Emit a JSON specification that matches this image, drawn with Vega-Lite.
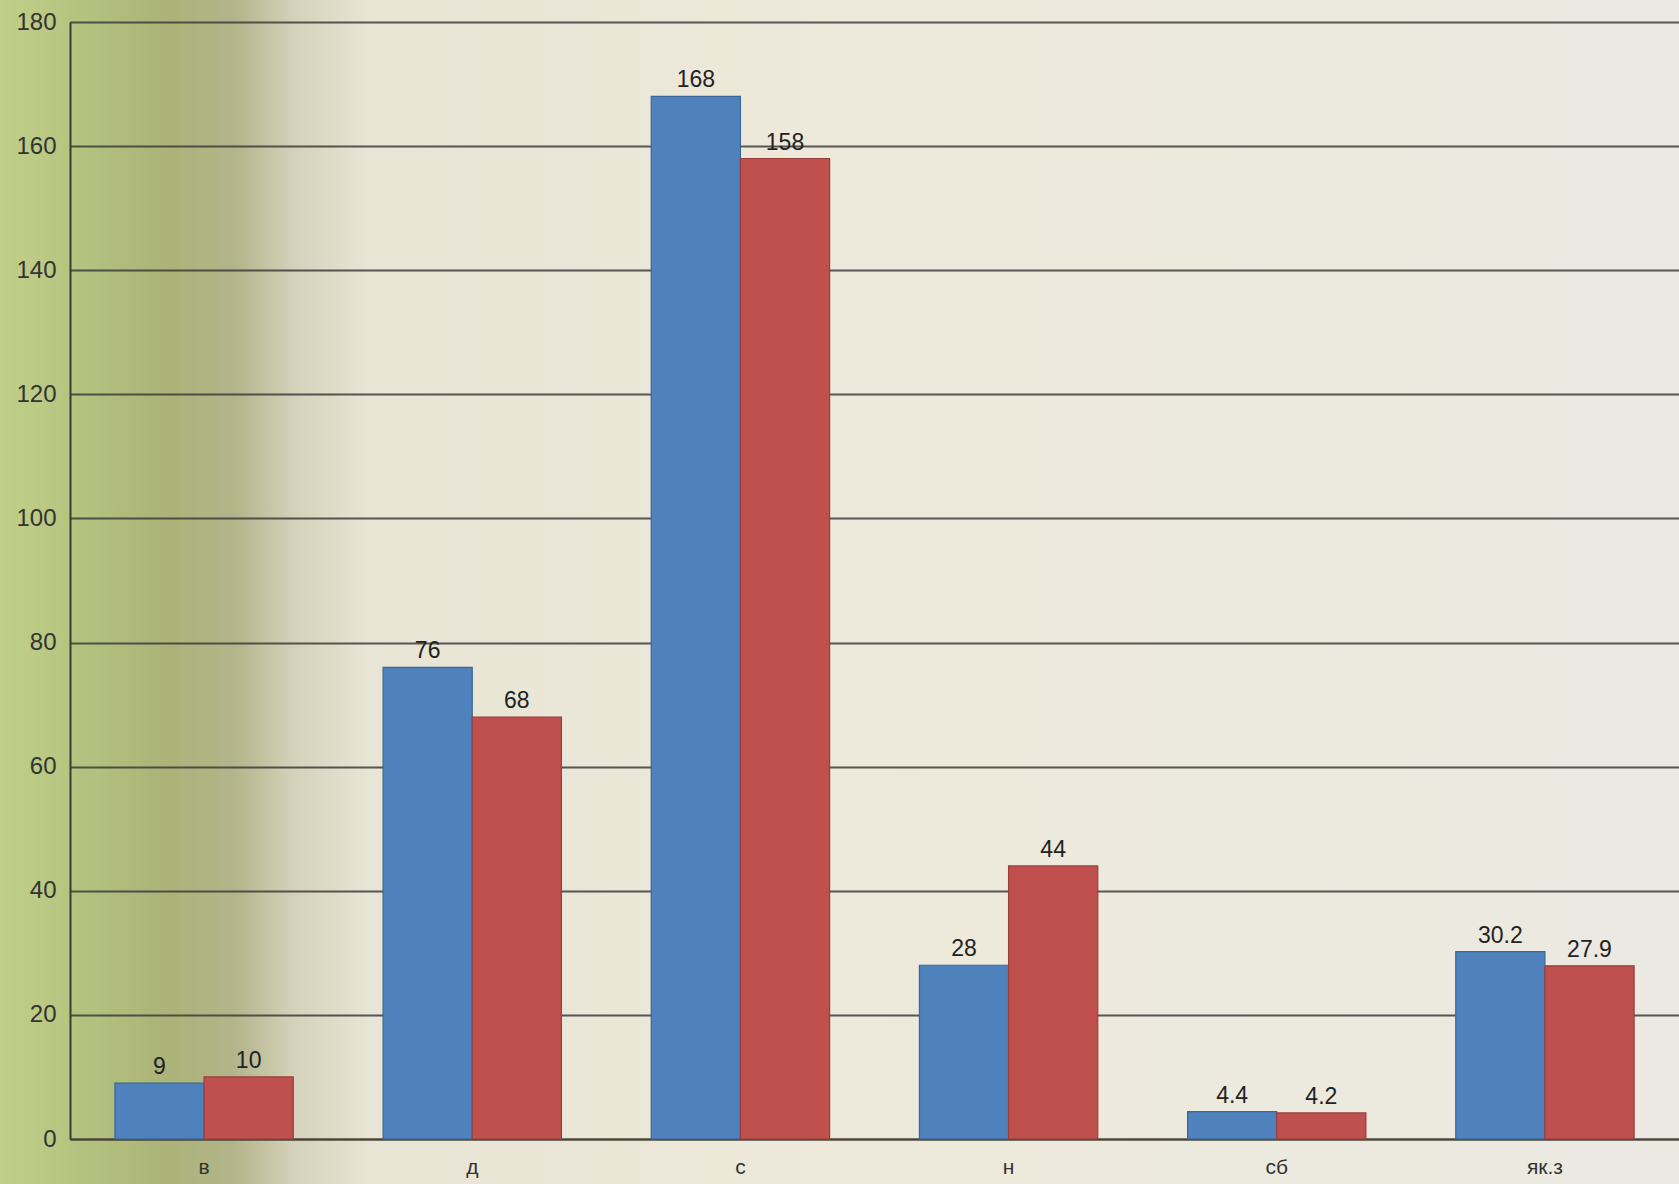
{
  "$schema": "https://vega.github.io/schema/vega-lite/v6.json",
  "width": 1679,
  "height": 1184,
  "autosize": {"type": "none"},
  "padding": 0,
  "background": "#ece8da",
  "config": {
    "view": {
      "stroke": null,
      "fill": {
        "gradient": "linear",
        "x1": 0, "y1": 0, "x2": 1, "y2": 0,
        "stops": [
          {"offset": 0, "color": "#c0d088"},
          {"offset": 0.05, "color": "#b5c27f"},
          {"offset": 0.1, "color": "#abb378"},
          {"offset": 0.14, "color": "#b3b58a"},
          {"offset": 0.175, "color": "#d4d2ba"},
          {"offset": 0.22, "color": "#e8e5d5"},
          {"offset": 0.5, "color": "#eee9da"},
          {"offset": 1, "color": "#ebe9e2"}
        ]
      }
    },
    "font": "Liberation Sans"
  },
  "data": {
    "values": [
      {"cat": "в", "series": "1", "value": 9},
      {"cat": "в", "series": "2", "value": 10},
      {"cat": "д", "series": "1", "value": 76},
      {"cat": "д", "series": "2", "value": 68},
      {"cat": "с", "series": "1", "value": 168},
      {"cat": "с", "series": "2", "value": 158},
      {"cat": "н", "series": "1", "value": 28},
      {"cat": "н", "series": "2", "value": 44},
      {"cat": "сб", "series": "1", "value": 4.4},
      {"cat": "сб", "series": "2", "value": 4.2},
      {"cat": "як.з", "series": "1", "value": 30.2},
      {"cat": "як.з", "series": "2", "value": 27.9}
    ]
  },
  "encoding": {
    "x": {
      "field": "cat",
      "type": "nominal",
      "sort": ["в", "д", "с", "н", "сб", "як.з"],
      "scale": {"range": [70, 1679], "paddingInner": 0.335, "paddingOuter": 0.1675},
      "axis": {
        "title": null,
        "offset": -45,
        "labelAngle": 0,
        "labelFontSize": 21,
        "labelColor": "#333333",
        "labelPadding": 17,
        "ticks": false,
        "domainColor": "#4a4535",
        "domainWidth": 2,
        "grid": false
      }
    },
    "xOffset": {"field": "series", "type": "nominal", "scale": {"paddingInner": 0}},
    "y": {
      "field": "value",
      "type": "quantitative",
      "scale": {"domain": [0, 180], "nice": false, "range": [1139, 22]},
      "axis": {
        "title": null,
        "offset": -70,
        "values": [0, 20, 40, 60, 80, 100, 120, 140, 160, 180],
        "labelFontSize": 24,
        "labelColor": "#333333",
        "labelPadding": 14,
        "ticks": false,
        "domainColor": "#3a3a35",
        "domainWidth": 2,
        "grid": true,
        "gridColor": "#3c3c38",
        "gridWidth": 2,
        "gridOpacity": 0.85
      }
    }
  },
  "layer": [
    {
      "mark": {"type": "bar", "strokeWidth": 1.2},
      "encoding": {
        "color": {
          "field": "series",
          "type": "nominal",
          "scale": {"domain": ["1", "2"], "range": ["#4f81bd", "#c0504d"]},
          "legend": null
        },
        "stroke": {
          "field": "series",
          "type": "nominal",
          "scale": {"domain": ["1", "2"], "range": ["#3d6696", "#983f3c"]},
          "legend": null
        }
      }
    },
    {
      "mark": {"type": "text", "baseline": "bottom", "dy": -4, "fontSize": 23, "color": "#222222"},
      "encoding": {
        "text": {"field": "value", "type": "quantitative", "format": "~g"}
      }
    }
  ]
}
